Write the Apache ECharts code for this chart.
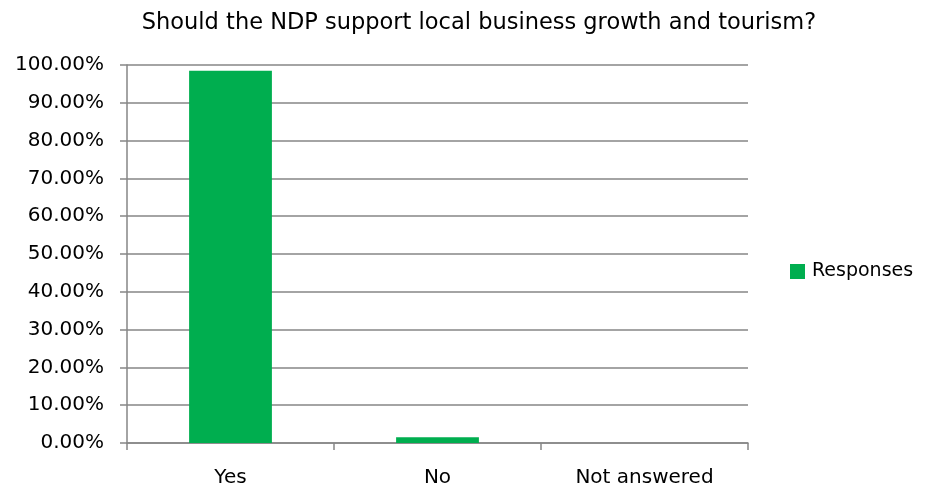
<!DOCTYPE html>
<html><head><meta charset="utf-8">
<script src="https://cdn.jsdelivr.net/npm/echarts@6/dist/echarts.min.js"></script>
<style>html,body{margin:0;padding:0;background:#fff}#c{width:927px;height:488px}</style>
</head><body><div id="c"></div>
<script>
const title = "Should the NDP support local business growth and tourism?";
const categories = ["Yes", "No", "Not answered"];
const seriesName = "Responses";
const values = [98.45, 1.55, 0];
const yTicks = [0, 10, 20, 30, 40, 50, 60, 70, 80, 90, 100];

const font = "'DejaVu Sans', sans-serif";
const chart = echarts.init(document.getElementById('c'));
chart.setOption({
  animation: false,
  title: { text: title, left: 474, top: 7, textAlign: 'center',
    textStyle: { fontFamily: font, fontSize: 22.5, fontWeight: 'normal', color: '#000' } },
  legend: { data: [seriesName], left: 790, top: 262, padding: 0, orient: 'vertical',
    icon: 'rect', itemWidth: 15, itemHeight: 15, itemGap: 6,
    textStyle: { fontFamily: font, fontSize: 19, color: '#000', padding: [0, 0, 0, 2] } },
  grid: { left: 127, right: 179, top: 65, bottom: 45, containLabel: false },
  xAxis: { type: 'category', data: categories,
    axisLine: { lineStyle: { color: '#868686', width: 1.5 } },
    axisTick: { show: true, length: 7, alignWithLabel: false, lineStyle: { color: '#868686', width: 1.5 } },
    axisLabel: { fontFamily: font, fontSize: 20, color: '#000', margin: 25 } },
  yAxis: { type: 'value', min: yTicks[0], max: yTicks[yTicks.length - 1], interval: 10,
    axisLine: { show: true, lineStyle: { color: '#868686', width: 1.5 } },
    axisTick: { show: true, length: 7, lineStyle: { color: '#868686', width: 1.5 } },
    splitLine: { lineStyle: { color: '#868686', width: 1.5 } },
    axisLabel: { fontFamily: font, fontSize: 20, color: '#000', margin: 23,
      formatter: v => v.toFixed(2) + '%' } },
  series: [{ name: seriesName, type: 'bar', data: values, barWidth: '40%',
    itemStyle: { color: '#00AE4F' } }]
});
</script></body></html>
